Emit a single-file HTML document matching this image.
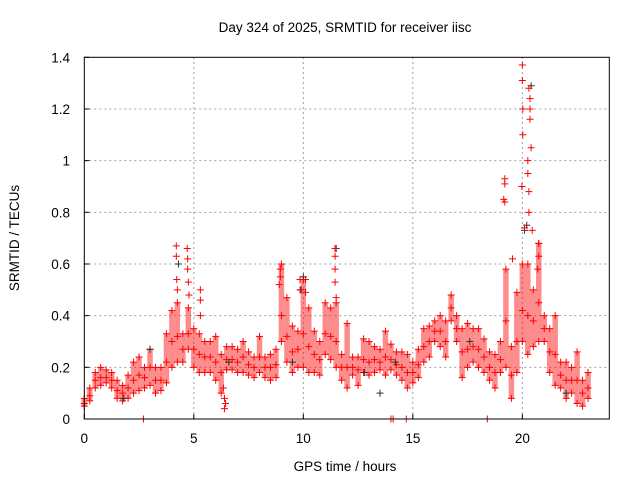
<!DOCTYPE html>
<html><head><meta charset="utf-8"><style>
body{margin:0;background:#fff}
svg{display:block;font-family:"Liberation Sans",sans-serif}
</style></head><body>
<svg id="chart" width="640" height="480">
<rect width="640" height="480" fill="#fff"/>
<text x="345" y="32" font-size="13.5" text-anchor="middle">Day 324 of 2025, SRMTID for receiver iisc</text>
<text transform="translate(19,238) rotate(-90)" font-size="13.5" text-anchor="middle">SRMTID / TECUs</text>
<text x="345" y="471" font-size="13.5" text-anchor="middle">GPS time / hours</text>
<g id="grid"></g>
<g id="ticks"></g>
<g id="marks"></g>
<rect x="84.3" y="57.3" width="525" height="361.7" fill="none" stroke="#000" stroke-width="1"/>
</svg>
<script>
const xTicks=[0,5,10,15,20];
const yTicks=[0,0.2,0.4,0.6,0.8,1,1.2,1.4];
const yTickLabels=["0","0.2","0.4","0.6","0.8","1","1.2","1.4"];
const bandLo=[.05,.07,.12,.13,.14,.12,.08,.07,.08,.10,.11,.12,.13,.10,.11,.14,.20,.22,.22,.27,.20,.18,.18,.18,.15,.10,.19,.19,.18,.18,.17,.16,.18,.16,.15,.16,.30,.22,.18,.20,.20,.18,.18,.17,.25,.23,.20,.15,.12,.17,.13,.18,.17,.18,.19,.17,.19,.17,.15,.12,.14,.16,.22,.24,.30,.28,.24,.38,.30,.16,.20,.22,.20,.18,.15,.12,.18,.20,.08,.18,.30,.25,.28,.30,.30,.18,.13,.12,.08,.10,.06,.05,.08];
const bandMid=[.06,.09,.15,.16,.16,.15,.11,.10,.12,.15,.17,.16,.20,.15,.15,.22,.30,.32,.27,.33,.27,.25,.24,.24,.22,.18,.23,.23,.22,.24,.21,.20,.24,.20,.20,.21,.40,.32,.26,.27,.33,.28,.25,.23,.33,.32,.30,.20,.20,.20,.19,.23,.22,.23,.22,.24,.23,.21,.20,.18,.18,.21,.28,.30,.34,.34,.30,.43,.35,.26,.27,.28,.27,.24,.20,.18,.23,.38,.17,.30,.42,.40,.38,.45,.35,.26,.25,.17,.15,.15,.15,.10,.12];
const bandHi=[.08,.12,.18,.20,.19,.18,.15,.13,.17,.22,.24,.20,.27,.20,.20,.33,.42,.45,.33,.43,.35,.33,.30,.30,.32,.25,.28,.28,.27,.30,.26,.24,.32,.24,.25,.27,.60,.47,.36,.34,.54,.43,.34,.30,.45,.43,.45,.25,.37,.24,.24,.31,.30,.28,.27,.34,.29,.26,.26,.25,.22,.27,.35,.36,.38,.40,.38,.48,.40,.35,.37,.35,.35,.31,.26,.25,.30,.58,.28,.49,.60,.60,.50,.68,.40,.35,.40,.22,.22,.20,.26,.15,.18];
const spikeT=[4.2,4.2,4.22,4.25,4.7,4.72,4.72,4.75,4.78,5.3,5.3,5.3,6.35,6.4,6.4,6.45,8.95,8.95,8.9,9.85,9.85,10.1,10.1,11.45,11.45,11.45,11.45,11.5,19.2,19.2,19.15,19.2,19.55,20.0,20.0,20.02,20.02,19.98,20.1,20.3,20.35,20.35,20.35,20.4,20.25,20.25,20.3,20.3,20.45,20.75,20.75,20.7,2.7,14.0,14.1,14.7,18.4];
const spikeV=[0.67,0.63,0.54,0.5,0.66,0.62,0.58,0.53,0.48,0.5,0.46,0.4,0.12,0.08,0.04,0.06,0.58,0.55,0.52,0.54,0.5,0.54,0.49,0.66,0.63,0.58,0.53,0.47,0.93,0.91,0.85,0.84,0.62,1.37,1.31,1.2,1.1,0.9,0.74,1.28,1.24,1.2,1.16,1.05,1.0,0.95,0.88,0.8,0.73,0.68,0.63,0.58,0,0,0,0,0];
const blackT=[10.0,9.9,11.5,20.4,20.2,20.1,17.6,6.6,13.5,14.2,3.0,22,1.8,9.5,12.8,4.3];
const blackV=[0.55,0.5,0.66,1.29,0.75,0.73,0.3,0.22,0.1,0.22,0.27,0.1,0.08,0.22,0.18,0.6];
const bandStep=0.25;

const X0=84.3,X1=609.3,Y0=419,Y1=57.3,XMAX=23.97,YMAX=1.4;
const NS="http://www.w3.org/2000/svg";
function xs(t){return X0+(X1-X0)*t/XMAX;}
function ys(v){return Y0-(Y0-Y1)*v/YMAX;}
function mk(tag,attrs,parent){const e=document.createElementNS(NS,tag);for(const k in attrs)e.setAttribute(k,attrs[k]);parent.appendChild(e);return e;}
const grid=document.getElementById('grid'),ticks=document.getElementById('ticks'),marks=document.getElementById('marks');
xTicks.forEach(t=>{
  const x=xs(t);
  if(t>0){const g=mk('line',{x1:x,x2:x,y1:Y0,y2:Y1,stroke:'#a0a0a0','stroke-dasharray':'2,3'},grid);
  
  }
  const tk=mk('line',{x1:x,x2:x,y1:Y0,y2:Y0-5,stroke:'#000'},ticks);
  
  
  const l=mk('text',{x:x,y:443,'font-size':'13.5','text-anchor':'middle'},ticks);l.textContent=String(t);
  
  
});
yTicks.forEach((v,i)=>{
  const y=ys(v);
  if(v>0&&v<YMAX){const g=mk('line',{x1:X0,x2:X1,y1:y,y2:y,stroke:'#a0a0a0','stroke-dasharray':'2,3'},grid);
  
  }
  const tk=mk('line',{x1:X0,x2:X0+5,y1:y,y2:y,stroke:'#000'},ticks);
  
  
  const l=mk('text',{x:70,y:y+5,'font-size':'13.5','text-anchor':'end'},ticks);l.textContent=yTickLabels[i];
  
  
});
function cross(t,v,color,name){
  const x=xs(t),y=ys(v);
  const p=mk('path',{d:`M${x-3.5},${y}h7M${x},${y-3.5}v7`,stroke:color,'stroke-width':1,fill:'none'},marks);
  
  
}
bandLo.forEach((lo,i)=>{
  const t=i*bandStep;
  const w=xs(bandStep)-xs(0);
  const r=mk('rect',{x:xs(t)-w/2,width:w,y:ys(bandHi[i]),height:ys(lo)-ys(bandHi[i]),fill:'#ff0000','fill-opacity':0.45},marks);
  
  
  cross(t,lo,'#ff0000','srmtid-point');
  cross(t,bandMid[i],'#ff0000','srmtid-point');
  cross(t,bandHi[i],'#ff0000','srmtid-point');
});
blackT.forEach((t,i)=>cross(t,blackV[i],'#303030','srmtid-alt-point'));
spikeT.forEach((t,i)=>cross(t,spikeV[i],'#ff0000','srmtid-point'));
</script>
</body></html>
